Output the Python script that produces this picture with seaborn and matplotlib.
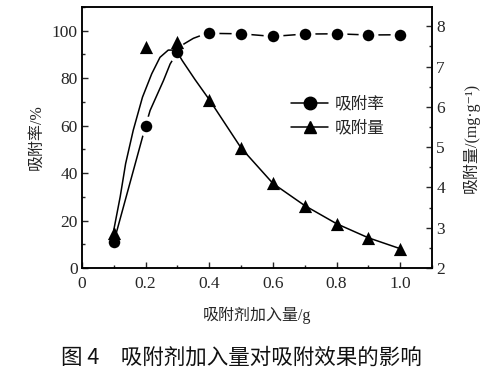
import numpy as np
import pandas as pd
import matplotlib
matplotlib.use('Agg')
import matplotlib.pyplot as plt
import seaborn as sns
from matplotlib.ticker import MultipleLocator
from matplotlib.lines import Line2D

sns.set_style('ticks')
plt.rcParams['font.family'] = ['Liberation Serif', 'Noto Sans CJK SC', 'DejaVu Sans']
plt.rcParams['axes.unicode_minus'] = False

# measured points
dose = [0.1, 0.2, 0.3, 0.4, 0.5, 0.6, 0.7, 0.8, 0.9, 1.0]
rate = [11.0, 60.0, 91.0, 98.9, 98.7, 97.6, 98.6, 98.7, 98.2, 98.3]
amount = [2.88, 7.49, 7.6, 6.18, 4.98, 4.1, 3.55, 3.1, 2.75, 2.48]

# smooth curves
rate_curve_x = [0.1, 0.2, 0.214, 0.256, 0.277, 0.3, 0.32, 0.35, 0.38, 0.4,
                0.5, 0.6, 0.7, 0.8, 0.9, 1.0]
rate_curve_y = [11.0, 60.0, 66.4, 79.0, 86.0, 91.0, 94.4, 96.8, 98.3, 98.9,
                98.7, 97.6, 98.6, 98.7, 98.2, 98.3]
amount_curve_x = [0.1, 0.12, 0.137, 0.161, 0.19, 0.219, 0.245, 0.271, 0.287, 0.3,
                  0.315, 0.355, 0.4, 0.5, 0.6, 0.7, 0.8, 0.9, 1.0]
amount_curve_y = [2.95, 3.77, 4.59, 5.42, 6.24, 6.82, 7.23, 7.41, 7.41, 7.35,
                  7.15, 6.68, 6.18, 4.98, 4.1, 3.55, 3.1, 2.75, 2.48]

df = pd.DataFrame({'dose': dose, 'rate': rate, 'amount': amount})

fig = plt.figure(figsize=(4.95, 3.82), dpi=100)
ax = fig.add_axes([0.1657, 0.2984, 0.7070, 0.6833])
ax2 = ax.twinx()

sns.lineplot(x=rate_curve_x, y=rate_curve_y, ax=ax, color='black', linewidth=1.1)
sns.scatterplot(data=df, x='dose', y='rate', ax=ax, marker='o', s=128, color='black',
                edgecolor='white', linewidth=3, zorder=5)

sns.lineplot(x=amount_curve_x, y=amount_curve_y, ax=ax2, color='black', linewidth=1.1)
sns.scatterplot(data=df, x='dose', y='amount', ax=ax2, marker='^', s=90, color='black',
                edgecolor='black', linewidth=0, zorder=5)

ax.set_xlim(0, 1.1)
ax.set_ylim(0, 110)
ax2.set_ylim(2, 8.48)

ax.set_xticks([0, 0.2, 0.4, 0.6, 0.8, 1.0])
ax.set_xticklabels(['0', '0.2', '0.4', '0.6', '0.8', '1.0'])
ax.xaxis.set_minor_locator(MultipleLocator(0.1))
ax.yaxis.set_major_locator(MultipleLocator(20))
ax.yaxis.set_minor_locator(MultipleLocator(10))
ax2.yaxis.set_major_locator(MultipleLocator(1))
ax2.yaxis.set_minor_locator(MultipleLocator(0.5))

for a in (ax, ax2):
    a.tick_params(which='major', direction='in', length=4, width=1, labelsize=12.5, pad=3)
    a.tick_params(which='minor', direction='in', length=2, width=1)
    for s in a.spines.values():
        s.set_visible(True)
        s.set_linewidth(1.1)
        s.set_color('black')
ax.tick_params(top=False, which='both')
ax.tick_params(axis='x', which='major', pad=6)

ax.set_xlabel('吸附剂加入量/g', fontsize=11.5, labelpad=10)
ax.set_ylabel('吸附率/%', fontsize=11.5, labelpad=5)
ax2.set_ylabel('吸附量/(mg·g⁻¹)', fontsize=11.5, labelpad=13)

handles = [
    Line2D([], [], color='black', marker='o', markersize=9, linewidth=1.1),
    Line2D([], [], color='black', marker='^', markersize=9, linewidth=1.1),
]
ax.legend(handles, ['吸附率', '吸附量'], loc='center left', bbox_to_anchor=(0.555, 0.58),
          frameon=False, fontsize=12, handlelength=2.2, handletextpad=0.4, labelspacing=0.45)

fig.text(0.487, 0.063, '图 4　吸附剂加入量对吸附效果的影响', ha='center', va='center',
         fontsize=15.5, family=['Noto Sans CJK SC', 'DejaVu Sans'], color='#111111')

fig.savefig('out.png', dpi=100)
